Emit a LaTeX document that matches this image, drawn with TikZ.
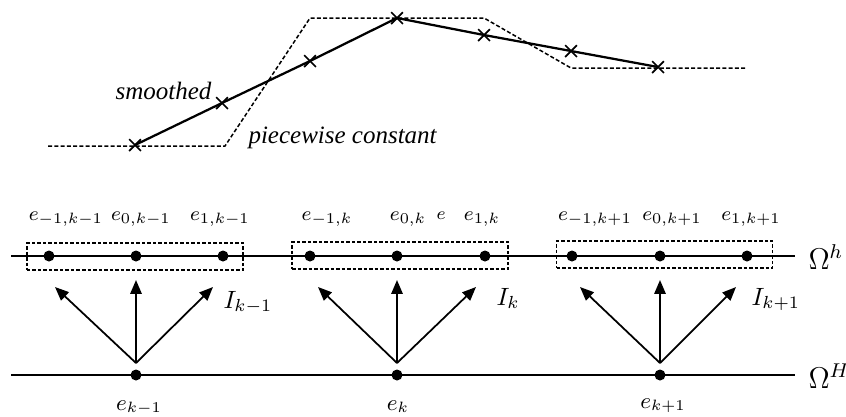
\documentclass[tikz,border=0pt]{standalone}
\usepackage{fontspec}
\setmainfont{Liberation Serif}
\usetikzlibrary{arrows.meta,shapes.misc}
\begin{document}
\begin{tikzpicture}[x=0.4pt,y=-0.4pt,
  xmark/.style={cross out,draw,line width=0.7pt,minimum size=4pt,inner sep=0pt},
  dot/.style={circle,fill,inner sep=0pt,minimum size=4.4pt},
  grp/.style={draw,dash pattern=on 1.4pt off 0.8pt,line width=0.5pt,minimum width=86.4pt,minimum height=10.8pt,inner sep=0pt},
  pw/.style={dash pattern=on 1.6pt off 0.9pt,line width=0.6pt},
  arr/.style={-{Triangle[length=5.5pt,width=4.5pt]},line width=0.7pt},
  axis/.style={line width=0.8pt},
  lbl/.style={inner sep=0pt},
  fl/.style={lbl,font=\fontsize{8.3}{10}\selectfont},
  cl/.style={lbl,font=\fontsize{9}{11}\selectfont}]
\useasboundingbox (0,0) rectangle (846,416);

% piecewise constant
\coordinate (p0) at (48,146);
\coordinate (p1) at (225,146);
\coordinate (p2) at (310,18);
\coordinate (p3) at (484,18);
\coordinate (p4) at (571,68);
\coordinate (p5) at (746,68);
\draw[pw] (p0) -- (p1) -- (p2) -- (p3) -- (p4) -- (p5);

% smoothed
\foreach \i/\x/\y in {0/135/145,1/222/103,2/310/61,3/397/18,4/484/35,5/571/51,6/658/67}
  \node[xmark] (s\i) at (\x,\y) {};
\draw[line width=0.9pt] (s0.center) -- (s1.center) -- (s2.center) -- (s3.center) -- (s4.center) -- (s5.center) -- (s6.center);

\node[lbl,anchor=base east] (tsm) at (212,99) {\textit{smoothed}};
\node[lbl,anchor=base west] (tpc) at (248,143) {\textit{piecewise constant}};

% fine and coarse grids
\coordinate (hL) at (11,256);
\coordinate (hR) at (795,256);
\coordinate (HL) at (11,375);
\coordinate (HR) at (795,375);
\draw[axis] (hL) -- (hR);
\draw[axis] (HL) -- (HR);
\node[lbl,anchor=west,font=\large] (Oh) at (808,257) {$\Omega^h$};
\node[lbl,anchor=west,font=\large] (OH) at (808,376) {$\Omega^H$};

% groups
\node[grp] (b1) at (135,256.5) {};
\node[grp] (b2) at (400,255.5) {};
\node[grp] (b3) at (664.5,254.5) {};

\foreach \g/\xa/\xb/\xc in {1/49/136/223, 2/310/397/485, 3/572/660/747} {
  \node[dot] (m\g) at (\xa,256) {};
  \node[dot] (z\g) at (\xb,256) {};
  \node[dot] (p\g) at (\xc,256) {};
}
\node[dot] (c1) at (136,375) {};
\node[dot] (c2) at (397,375) {};
\node[dot] (c3) at (660,375) {};

% arrows
\foreach \g/\x/\l/\r in {1/136/55/213, 2/397/318/476, 3/660/580/736} {
  \coordinate (o\g) at (\x,363);
  \coordinate (tl\g) at (\l,287);
  \coordinate (tv\g) at (\x,280);
  \coordinate (tr\g) at (\r,287);
  \draw[arr] (o\g) -- (tl\g);
  \draw[arr] (o\g) -- (tv\g);
  \draw[arr] (o\g) -- (tr\g);
}

% labels above
\node[fl,anchor=base] (l1) at (66,220) {$e_{-1,k-1}$};
\node[fl,anchor=base] (l2) at (141,220) {$e_{0,k-1}$};
\node[fl,anchor=base] (l3) at (220,220) {$e_{1,k-1}$};
\node[fl,anchor=base] (l4) at (327,220) {$e_{-1,k}$};
\node[fl,anchor=base] (l5) at (408,220) {$e_{0,k}$};
\node[lbl,anchor=base] (l5e) at (441,219) {\scriptsize$e$};
\node[fl,anchor=base] (l6) at (482,220) {$e_{1,k}$};
\node[fl,anchor=base] (l7) at (595,220) {$e_{-1,k+1}$};
\node[fl,anchor=base] (l8) at (672,220) {$e_{0,k+1}$};
\node[fl,anchor=base] (l9) at (751,220) {$e_{1,k+1}$};

% interpolation labels
\node[lbl,anchor=base west] (I1) at (223,308) {$I_{k-1}$};
\node[lbl,anchor=base west] (I2) at (496,305) {$I_{k}$};
\node[lbl,anchor=base west] (I3) at (751,305) {$I_{k+1}$};

% coarse labels
\node[cl,anchor=base] (e1) at (139,410) {$e_{k-1}$};
\node[cl,anchor=base] (e2) at (398,410) {$e_{k}$};
\node[cl,anchor=base] (e3) at (663,408) {$e_{k+1}$};
\end{tikzpicture}
\end{document}
